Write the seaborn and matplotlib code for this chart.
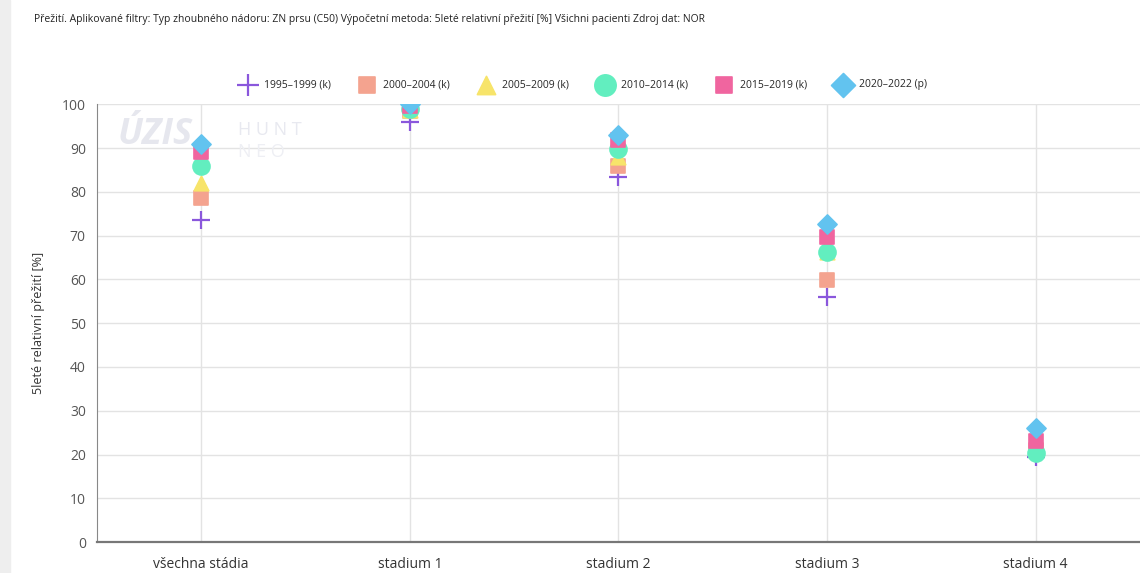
import pandas as pd
import matplotlib.pyplot as plt
import seaborn as sns

# data
categories = ['všechna stádia', 'stadium 1', 'stadium 2', 'stadium 3', 'stadium 4']
periods = ['1995–1999 (k)', '2000–2004 (k)', '2005–2009 (k)', '2010–2014 (k)', '2015–2019 (k)', '2020–2022 (p)']
v_1995 = [73.5, 96.0, 83.5, 56.0, 19.5]
v_2000 = [78.7, 98.5, 86.0, 59.8, 21.0]
v_2005 = [82.0, 98.8, 88.0, 66.3, 21.5]
v_2010 = [85.8, 99.0, 89.8, 66.2, 20.4]
v_2015 = [89.0, 99.5, 91.8, 69.6, 23.0]
v_2020 = [91.0, 100.0, 93.0, 72.6, 26.0]

colors = ['#8a57dc', '#f4a38f', '#f7e46a', '#62eebf', '#f0659f', '#62c3ef']
markers = ['+', 's', '^', 'o', 's', 'D']

rows = []
for p, vals in zip(periods, [v_1995, v_2000, v_2005, v_2010, v_2015, v_2020]):
    for c, v in zip(categories, vals):
        rows.append({'stadium': c, 'obdobi': p, 'preziti': v})
df = pd.DataFrame(rows)
df['x'] = df['stadium'].map({c: i for i, c in enumerate(categories)})

sns.set_style('white')
plt.rcParams['font.family'] = ['Open Sans', 'DejaVu Sans']

fig = plt.figure(figsize=(11.4, 5.73), dpi=100)
ax = fig.add_axes([0.085, 0.054, 0.915, 0.764])

# light page border on the left
fig.patches.append(plt.Rectangle((0, 0), 0.009, 1, transform=fig.transFigure,
                                 color='#eeeeee', zorder=0))

sizes = {'+': 150, 's': 95, '^': 110, 'o': 150, 'D': 95}
for p, col, m in zip(periods, colors, markers):
    sub = df[df['obdobi'] == p]
    sns.scatterplot(data=sub, x='x', y='preziti', ax=ax, color=col, marker=m,
                    s=sizes[m], linewidth=1.6 if m == '+' else 1.2,
                    edgecolor=None if m == '+' else col, label=p, zorder=3)

ax.set_xlim(-0.5, 4.5)
ax.set_ylim(0, 100)
ax.set_xticks(range(len(categories)))
ax.set_xticklabels(categories, fontsize=10, color='#333333')
ax.set_yticks(range(0, 101, 10))
ax.tick_params(axis='y', labelsize=10, colors='#555555', length=0, pad=8)
ax.tick_params(axis='x', length=0, pad=11)
ax.set_xlabel('')
ax.set_ylabel('5leté relativní přežití [%]', fontsize=9, color='#333333', labelpad=12)
ax.grid(True, color='#e3e3e3', linewidth=1)
ax.set_axisbelow(True)
for s in ['top', 'right']:
    ax.spines[s].set_visible(False)
ax.spines['left'].set_color('#888888')
ax.spines['bottom'].set_color('#777777')
ax.spines['bottom'].set_linewidth(1.6)

# faint watermark
ax.text(0.02, 0.91, 'ÚZIS', transform=ax.transAxes, fontsize=26, fontweight='bold',
        fontstyle='italic', color='#e6e7ee', zorder=1)
ax.text(0.135, 0.93, 'H U N T', transform=ax.transAxes, fontsize=13,
        color='#e8e9f0', zorder=1)
ax.text(0.135, 0.88, 'N E O', transform=ax.transAxes, fontsize=13,
        color='#eeeff4', zorder=1)

ax.legend(loc='center', bbox_to_anchor=(0.511, 0.852), bbox_transform=fig.transFigure,
          ncol=6, frameon=False, fontsize=7.5, handletextpad=0.5, columnspacing=2.5,
          markerscale=1.25)

fig.text(0.03, 0.966, 'Přežití. Aplikované filtry: Typ zhoubného nádoru: ZN prsu (C50) '
         'Výpočetní metoda: 5leté relativní přežití [%] Všichni pacienti Zdroj dat: NOR',
         fontsize=7.5, color='#222222', va='center')

fig.savefig('out.png', dpi=100)
